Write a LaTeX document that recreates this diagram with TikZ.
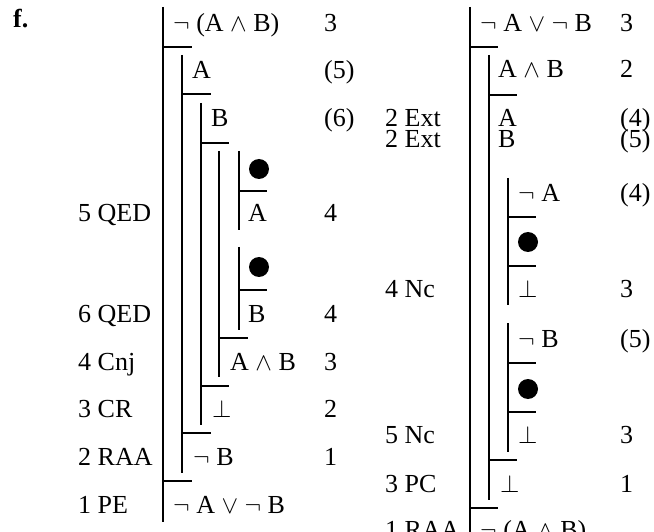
\documentclass[tikz,border=0pt]{standalone}
\usepackage{fontspec}
\setmainfont{Liberation Serif}
\begin{document}
\begin{tikzpicture}[x=1pt,y=-1pt,
  fl/.style={line width=1.5pt},
  txt/.style={anchor=base west,inner sep=0pt,font=\fontsize{26}{30}\selectfont},
  blt/.style={circle,fill=black,inner sep=0pt,minimum size=20pt}]
\clip (0,0) rectangle (654,532);
\useasboundingbox (0,0) rectangle (654,532);
% ---------- left proof: lines ----------
\draw[fl] (163,7) -- (163,522);
\draw[fl] (163,47) -- (192,47);
\draw[fl] (182,55) -- (182,473);
\draw[fl] (182,94) -- (211,94);
\draw[fl] (201,103) -- (201,425);
\draw[fl] (201,143) -- (229,143);
\draw[fl] (219,151) -- (219,377);
\draw[fl] (239,151) -- (239,230);
\draw[fl] (239,191) -- (267,191);
\draw[fl] (239,247) -- (239,330);
\draw[fl] (239,290) -- (267,290);
\draw[fl] (219,338) -- (248,338);
\draw[fl] (201,386) -- (229,386);
\draw[fl] (182,433) -- (211,433);
\draw[fl] (163,481) -- (192,481);
% ---------- left proof: text ----------
\node[txt,font=\fontsize{26}{30}\selectfont\bfseries] (f) at (13,28) {f.};
\node[txt] (l1) at (173,32) {$\neg$ (A $\wedge$ B)};
\node[txt] (l1n) at (324,32) {3};
\node[txt] (l2) at (192,79) {A};
\node[txt] (l2n) at (324,79) {(5)};
\node[txt] (l3) at (211,127) {B};
\node[txt] (l3n) at (324,127) {(6)};
\node[blt] (d1) at (259,169) {};
\node[txt] (l5j) at (78,222) {5 QED};
\node[txt] (l5) at (248,222) {A};
\node[txt] (l5n) at (324,222) {4};
\node[blt] (d2) at (259,267) {};
\node[txt] (l7j) at (78,322) {6 QED};
\node[txt] (l7) at (248,322) {B};
\node[txt] (l7n) at (324,322) {4};
\node[txt] (l8j) at (78,370) {4 Cnj};
\node[txt] (l8) at (230,370) {A $\wedge$ B};
\node[txt] (l8n) at (324,370) {3};
\node[txt] (l9j) at (78,417) {3 CR};
\node[txt] (l9) at (212,417) {$\bot$};
\node[txt] (l9n) at (324,417) {2};
\node[txt] (l10j) at (78,465) {2 RAA};
\node[txt] (l10) at (193,465) {$\neg$ B};
\node[txt] (l10n) at (324,465) {1};
\node[txt] (l11j) at (78,513) {1 PE};
\node[txt] (l11) at (173,513) {$\neg$ A $\vee$ $\neg$ B};
% ---------- right proof: lines ----------
\draw[fl] (470,7) -- (470,540);
\draw[fl] (470,47) -- (498,47);
\draw[fl] (489,55) -- (489,500);
\draw[fl] (489,95) -- (517,95);
\draw[fl] (508,178) -- (508,305);
\draw[fl] (508,217) -- (536,217);
\draw[fl] (508,266) -- (536,266);
\draw[fl] (508,323) -- (508,452);
\draw[fl] (508,363) -- (536,363);
\draw[fl] (508,412) -- (536,412);
\draw[fl] (489,460) -- (517,460);
\draw[fl] (470,508) -- (498,508);
% ---------- right proof: text ----------
\node[txt] (r1) at (480,32) {$\neg$ A $\vee$ $\neg$ B};
\node[txt] (r1n) at (620,32) {3};
\node[txt] (r2) at (498,78) {A $\wedge$ B};
\node[txt] (r2n) at (620,78) {2};
\node[txt] (r3j) at (385,127) {2 Ext};
\node[txt] (r3) at (498,127) {A};
\node[txt] (r3n) at (620,127) {(4)};
\node[txt] (r4j) at (385,148) {2 Ext};
\node[txt] (r4) at (498,148) {B};
\node[txt] (r4n) at (620,148) {(5)};
\node[txt] (r5) at (518,202) {$\neg$ A};
\node[txt] (r5n) at (620,202) {(4)};
\node[blt] (rd1) at (528,242) {};
\node[txt] (r7j) at (385,297) {4 Nc};
\node[txt] (r7) at (518,297) {$\bot$};
\node[txt] (r7n) at (620,297) {3};
\node[txt] (r8) at (518,347) {$\neg$ B};
\node[txt] (r8n) at (620,347) {(5)};
\node[blt] (rd2) at (528,389) {};
\node[txt] (r10j) at (385,443) {5 Nc};
\node[txt] (r10) at (518,443) {$\bot$};
\node[txt] (r10n) at (620,443) {3};
\node[txt] (r11j) at (385,492) {3 PC};
\node[txt] (r11) at (500,492) {$\bot$};
\node[txt] (r11n) at (620,492) {1};
\node[txt] (r12j) at (385,538) {1 RAA};
\node[txt] (r12) at (480,538) {$\neg$ (A $\wedge$ B)};
\end{tikzpicture}
\end{document}
